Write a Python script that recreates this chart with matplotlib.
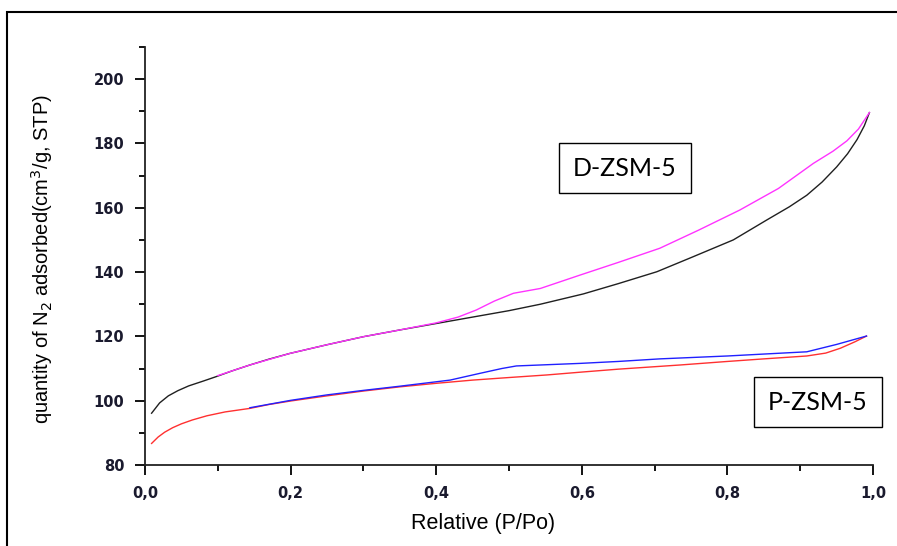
import numpy as np
import matplotlib.pyplot as plt
from matplotlib.patches import Rectangle

# D-ZSM-5 adsorption (black) and desorption (magenta)
d_ads_x = [0.009, 0.02, 0.032, 0.045, 0.06, 0.08, 0.098, 0.12, 0.144, 0.17, 0.199, 0.25, 0.30,
           0.35, 0.40, 0.45, 0.50, 0.543, 0.602, 0.65, 0.703, 0.75, 0.808, 0.854, 0.885,
           0.909, 0.93, 0.95, 0.965, 0.978, 0.988, 0.995]
d_ads_y = [96.1, 99.3, 101.5, 103.1, 104.6, 106.1, 107.5, 109.3, 111.1, 112.9, 114.7, 117.4,
           119.9, 122.0, 124.0, 126.0, 128.0, 130.0, 133.2, 136.4, 140.1, 144.5, 150.0, 156.2,
           160.3, 163.9, 168.0, 172.7, 176.8, 181.2, 185.5, 189.6]
d_des_x = [0.10, 0.144, 0.199, 0.25, 0.30, 0.35, 0.40, 0.43, 0.455, 0.48, 0.506, 0.543,
           0.598, 0.65, 0.707, 0.76, 0.817, 0.87, 0.918, 0.945, 0.964, 0.98, 0.995]
d_des_y = [107.8, 111.1, 114.7, 117.4, 119.9, 122.0, 124.2, 126.0, 128.2, 131.0, 133.4, 134.9,
           139.1, 143.0, 147.4, 153.0, 159.3, 166.0, 173.8, 177.6, 180.8, 184.5, 189.6]

# P-ZSM-5 adsorption (red) and desorption (blue)
p_ads_x = [0.009, 0.018, 0.027, 0.038, 0.05, 0.065, 0.085, 0.11, 0.144, 0.17, 0.20, 0.25,
           0.30, 0.35, 0.40, 0.45, 0.50, 0.552, 0.60, 0.65, 0.735, 0.80, 0.85, 0.909, 0.935,
           0.955, 0.975, 0.991]
p_ads_y = [86.7, 88.7, 90.2, 91.6, 92.8, 94.0, 95.3, 96.5, 97.6, 98.8, 99.9, 101.5,
           103.0, 104.3, 105.4, 106.4, 107.2, 108.0, 108.9, 109.8, 111.1, 112.2, 113.0, 113.9,
           114.8, 116.3, 118.3, 120.1]
p_des_x = [0.144, 0.20, 0.25, 0.30, 0.35, 0.419, 0.46, 0.49, 0.51, 0.543, 0.598, 0.65, 0.707,
           0.80, 0.85, 0.909, 0.95, 0.991]
p_des_y = [97.8, 100.1, 101.8, 103.2, 104.5, 106.4, 108.5, 110.0, 110.8, 111.1, 111.6, 112.2,
           113.0, 113.9, 114.5, 115.2, 117.5, 120.1]

plt.rcParams['font.family'] = 'Liberation Sans'

fig = plt.figure(figsize=(8.97, 5.46), dpi=100)
ax = fig.add_axes([0.1617, 0.1484, 0.8116, 0.7655])

ax.plot(d_ads_x, d_ads_y, color='#202020', lw=1.0)
ax.plot(d_des_x, d_des_y, color='#ff33ff', lw=1.0)
ax.plot(p_ads_x, p_ads_y, color='#ff3030', lw=1.0)
ax.plot(p_des_x, p_des_y, color='#2020ff', lw=1.0)

ax.set_xlim(0, 1.0)
ax.set_ylim(80, 210)
ax.spines['top'].set_visible(False)
ax.spines['right'].set_visible(False)
for s in ['left', 'bottom']:
    ax.spines[s].set_linewidth(1.3)
    ax.spines[s].set_color('#222222')

ax.set_xticks(np.arange(0, 1.01, 0.2))
ax.set_xticks(np.arange(0.1, 1.0, 0.2), minor=True)
ax.set_yticks(np.arange(80, 201, 20))
ax.set_yticks(np.arange(90, 211, 20), minor=True)
ax.set_xticklabels(['0,0', '0,2', '0,4', '0,6', '0,8', '1,0'])
ax.tick_params(which='major', direction='out', length=7, width=1.3, pad=8)
ax.tick_params(which='minor', direction='out', length=4, width=1.3)
for lab in ax.get_xticklabels() + ax.get_yticklabels():
    lab.set_family('DejaVu Sans')
    lab.set_fontsize(10.5)
    lab.set_fontweight('bold')
    lab.set_color('#1a1a2e')

ax.set_xlabel('Relative (P/Po)', fontsize=15.5)
ax.xaxis.set_label_coords(0.464, -0.115)
ax.set_ylabel('quantity of N$_2$ adsorbed(cm$^3$/g, STP)', fontsize=14.5)
ax.yaxis.set_label_coords(-0.124, 0.493)

# sample labels in boxes
fig.text(625 / 897, 1 - 168 / 546, 'D-ZSM-5', ha='center', va='center', fontsize=18,
         family='Lato',
         bbox=dict(boxstyle='square,pad=0.55', fc='white', ec='black', lw=1.0))
fig.text(818 / 897, 1 - 402 / 546, 'P-ZSM-5', ha='center', va='center', fontsize=18,
         family='Lato',
         bbox=dict(boxstyle='square,pad=0.55', fc='white', ec='black', lw=1.0))

# outer frame
fig.patches.append(Rectangle((7 / 897, -0.1), 1.2, 1.1 - 12 / 546,
                             transform=fig.transFigure, fill=False, ec='black', lw=1.5))

fig.savefig('out.png', dpi=100)
